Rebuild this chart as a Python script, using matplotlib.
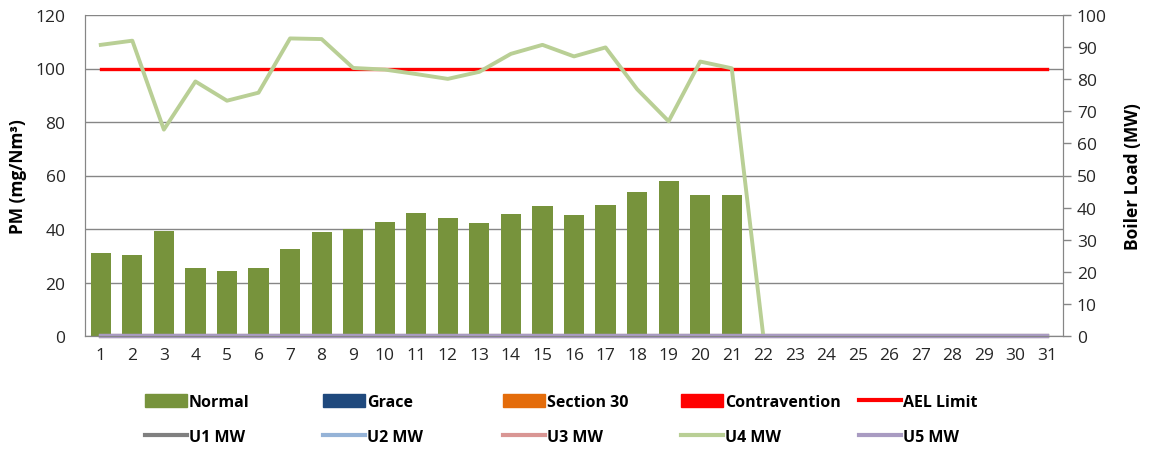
import numpy as np
import matplotlib.pyplot as plt
from matplotlib.patches import Patch
from matplotlib.lines import Line2D

plt.rcParams["font.family"] = ["Open Sans", "DejaVu Sans"]

# ===============================
# Data
# ===============================
days = list(range(1, 32))

normal_pm = [31.0, 30.3, 39.4, 25.4, 24.3, 25.3, 32.5, 38.9, 40.1, 42.6,
             45.9, 44.0, 42.4, 45.7, 48.5, 45.1, 49.0, 53.9, 58.1, 52.8,
             52.6] + [0] * 10
grace_pm = [0] * 31
section30_pm = [0] * 31
contravention_pm = [0] * 31
ael_limit = [100] * 31

u1_mw = [0] * 31
u2_mw = [0] * 31
u3_mw = [0] * 31
u4_mw = [90.7, 92.0, 64.3, 79.3, 73.3, 75.8, 92.7, 92.5, 83.5, 83.0,
         81.6, 80.1, 82.3, 87.9, 90.7, 87.1, 89.9, 76.9, 66.9, 85.5,
         83.4, 0, 0, 0, 0, 0, 0, 0, 0, 0, 0]
u5_mw = [0] * 31

# colours
c_normal = "#77933C"
c_grace = "#1F497D"
c_s30 = "#E46C0A"
c_contra = "#FF0000"
c_ael = "#FF0000"
c_u1 = "#808080"
c_u2 = "#95B3D7"
c_u3 = "#D99694"
c_u4 = "#B9CF95"
c_u5 = "#A99BC2"
grid_c = "#868686"

# ===============================
# Plot
# ===============================
fig = plt.figure(figsize=(11.51, 4.56), dpi=100)
ax = fig.add_axes([85 / 1151, 1 - 337 / 456, 978 / 1151, 321 / 456])
ax2 = ax.twinx()

x = np.array(days)
w = 0.64
ax.bar(x, normal_pm, width=w, color=c_normal, zorder=2)
ax.bar(x, grace_pm, width=w, color=c_grace, zorder=2)
ax.bar(x, section30_pm, width=w, color=c_s30, zorder=2)
ax.bar(x, contravention_pm, width=w, color=c_contra, zorder=2)
ax.plot(x, ael_limit, color=c_ael, lw=2.4, zorder=3)

ax2.plot(x, u1_mw, color=c_u1, lw=3, clip_on=False)
ax2.plot(x, u2_mw, color=c_u2, lw=3, clip_on=False)
ax2.plot(x, u3_mw, color=c_u3, lw=3, clip_on=False)
ax2.plot(x, u4_mw, color=c_u4, lw=2.8, solid_joinstyle="round", clip_on=False)
ax2.plot(x, u5_mw, color=c_u5, lw=3, clip_on=False)

ax.set_xlim(0.5, 31.5)
ax.set_ylim(0, 120)
ax2.set_ylim(0, 100)
ax.set_xticks(days)
ax.set_yticks(range(0, 121, 20))
ax2.set_yticks(range(0, 101, 10))

ax.yaxis.grid(True, color=grid_c, lw=1.0, zorder=0)
ax.set_axisbelow(True)

for a in (ax, ax2):
    a.spines["top"].set_visible(False)
    for s in ("left", "right", "bottom"):
        a.spines[s].set_color(grid_c)
ax.tick_params(axis="x", length=0, labelsize=12.5, pad=8, colors="#262626")
ax.tick_params(axis="y", length=0, labelsize=12.5, pad=14, colors="#262626")
ax2.tick_params(axis="y", length=6, width=1, labelsize=12.5, pad=4,
                labelcolor="#262626", color=grid_c)

ax.set_ylabel("PM (mg/Nm³)", fontsize=12.5, fontweight="bold", labelpad=6)
ax2.set_ylabel("Boiler Load (MW)", fontsize=12.5, fontweight="bold", labelpad=12)

# ===============================
# Legend: five columns of two entries
# ===============================
columns = [
    [Patch(color=c_normal, label="Normal"), Line2D([], [], color=c_u1, lw=3, label="U1 MW")],
    [Patch(color=c_grace, label="Grace"), Line2D([], [], color=c_u2, lw=3, label="U2 MW")],
    [Patch(color=c_s30, label="Section 30"), Line2D([], [], color=c_u3, lw=3, label="U3 MW")],
    [Patch(color=c_contra, label="Contravention"), Line2D([], [], color=c_u4, lw=3, label="U4 MW")],
    [Line2D([], [], color=c_ael, lw=3, label="AEL Limit"), Line2D([], [], color=c_u5, lw=3, label="U5 MW")],
]
col_x = [145, 323, 503, 681, 859]
for cx, hs in zip(col_x, columns):
    fig.legend(handles=hs, loc="upper left", bbox_to_anchor=(cx / 1151, 1 - 395 / 456),
               frameon=False, ncol=1, handlelength=2.6, handleheight=0.9,
               handletextpad=0.15, labelspacing=1.2, borderpad=0, borderaxespad=0,
               prop={"weight": "bold", "size": 11.5})

fig.savefig("out.png", dpi=100)
